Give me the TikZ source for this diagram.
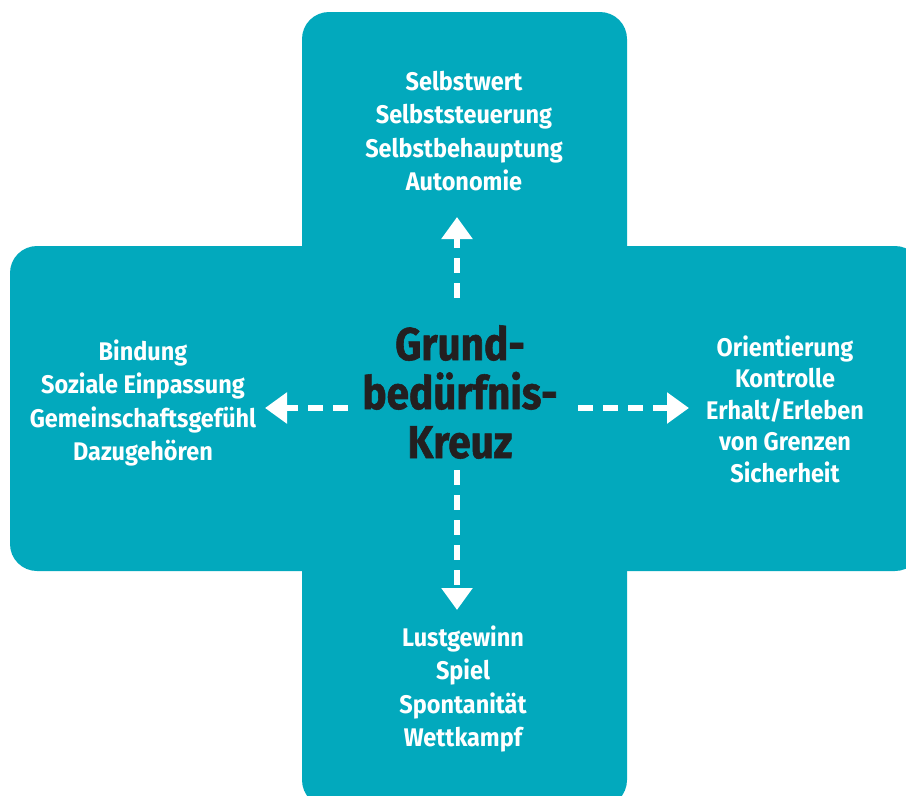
\documentclass[tikz,border=0pt]{standalone}
\usepackage{fontspec}
\setmainfont{Fira Sans}
\newfontfamily\lblfont[FakeStretch=0.92]{Fira Sans}
\newfontfamily\ttlfont[FakeStretch=0.88,FakeBold=1.2]{Fira Sans}
\usetikzlibrary{arrows.meta}
\definecolor{teal}{RGB}{2,169,189}
\definecolor{ink}{RGB}{35,31,32}
\tikzset{
  bar/.style={fill=teal,rounded corners=27pt},
  lbl/.style={align=center,text=white,font=\lblfont\bfseries\fontsize{25.5}{33.5}\selectfont,inner sep=0pt},
  ttl/.style={align=center,text=ink,font=\ttlfont\bfseries\fontsize{46}{49}\selectfont,inner sep=0pt},
  dasharrow/.style={white,line width=6pt,dash pattern=on 15pt off 10pt,
    -{Triangle[width=30pt,length=22pt]}}
}
\begin{document}
\begin{tikzpicture}[x=1pt,y=-1pt]
\useasboundingbox (0,0) rectangle (906,796);
\begin{scope}
\clip (0,0) rectangle (906,796);
\fill[bar] (302,12) rectangle (627,807);
\fill[bar] (10,246) rectangle (922,571);
\end{scope}
\node[ttl] (center) at (460,392) {Grund-\\bedürfnis-\\Kreuz};
\node[lbl] (top) at (464,131) {Selbstwert\\Selbststeuerung\\Selbstbehauptung\\Autonomie};
\node[lbl] (left) at (143,403) {Bindung\\Soziale Einpassung\\Gemeinschaftsgefühl\\Dazugehören};
\node[lbl,font=\lblfont\bfseries\fontsize{25.5}{31.5}\selectfont] (right) at (785,409) {Orientierung\\Kontrolle\\Erhalt/Erleben\\von Grenzen\\Sicherheit};
\node[lbl] (bottom) at (463,689) {Lustgewinn\\Spiel\\Spontanität\\Wettkampf};
\coordinate (cu) at (457,298);
\coordinate (cd) at (457,470);
\coordinate (cl) at (348,408);
\coordinate (cr) at (578,408);
\coordinate (tu) at (457,217);
\coordinate (td) at (457,610);
\coordinate (tl) at (265,408);
\coordinate (tr) at (689,408);
\draw[dasharrow] (cu) -- (tu);
\draw[dasharrow] (cd) -- (td);
\draw[dasharrow] (cl) -- (tl);
\draw[dasharrow] (cr) -- (tr);
\end{tikzpicture}
\end{document}
